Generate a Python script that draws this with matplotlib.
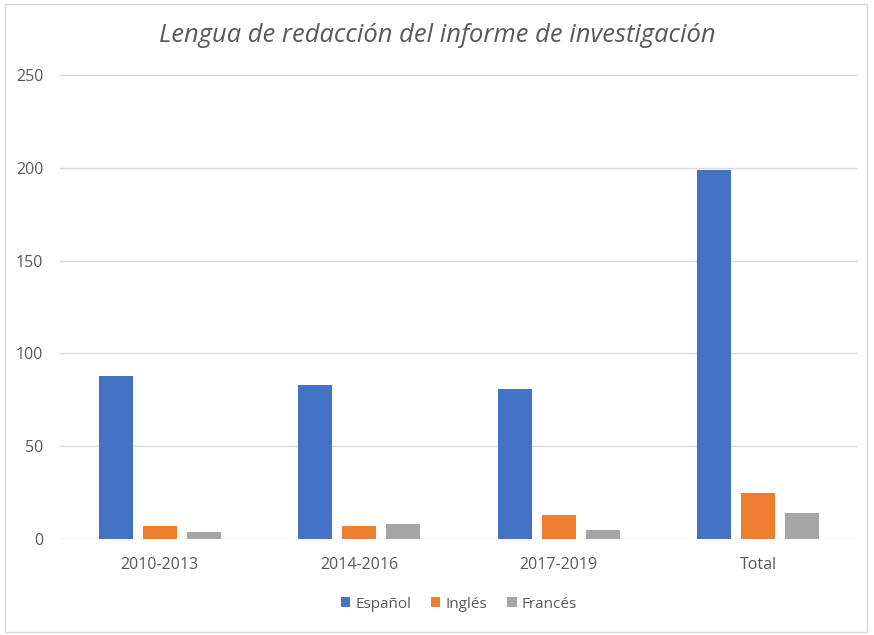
import numpy as np
import matplotlib
matplotlib.use("Agg")
import matplotlib.pyplot as plt
from matplotlib.patches import Rectangle

categories = ["2010-2013", "2014-2016", "2017-2019", "Total"]
espanol = [88, 83, 81, 199]
ingles = [7, 7, 13, 25]
frances = [4, 8, 5, 14]
series_names = ["Español", "Inglés", "Francés"]
colors = ["#4472c4", "#ed7d31", "#a5a5a5"]
yticks = [0, 50, 100, 150, 200, 250]

plt.rcParams['font.family'] = ['Open Sans', 'DejaVu Sans']

fig = plt.figure(figsize=(8.74, 6.35), dpi=100)
ax = fig.add_axes([60/874, 1-539/635, 798/874, (539-75)/635])

x = np.arange(len(categories))
width = 0.17
pitch = 0.22
for i, (vals, name, c) in enumerate(zip([espanol, ingles, frances], series_names, colors)):
    ax.bar(x + (i-1)*pitch, vals, width, color=c, label=name, zorder=3)

ax.set_xlim(-0.5, 3.5)
ax.set_ylim(0, 250)
ax.set_yticks(yticks)
ax.set_xticks(x)
ax.set_xticklabels(categories)
ax.tick_params(axis='both', length=0, colors='#595959', labelsize=11.5)
ax.tick_params(axis='y', pad=12)
ax.tick_params(axis='x', pad=13)
ax.grid(axis='y', color='#d9d9d9', linewidth=1, zorder=0)
for s in ax.spines.values():
    s.set_visible(False)

fig.text(0.5, 1-36/635, "Lengua de redacción del informe de investigación",
         ha='center', va='center', fontsize=18.4, style='italic', color='#595959')

leg = ax.legend(loc='center', bbox_to_anchor=(0.5, (539-604)/464), ncol=3,
                frameon=False, fontsize=11, handlelength=0.6, handleheight=0.6,
                handletextpad=0.35, columnspacing=1.3)
for t in leg.get_texts():
    t.set_color('#595959')

fig.patches.append(Rectangle((5/874, 3/635), 862/874, 628/635, transform=fig.transFigure,
                             fill=False, edgecolor='#d9d9d9', linewidth=1))

fig.savefig("out.png", dpi=100)
